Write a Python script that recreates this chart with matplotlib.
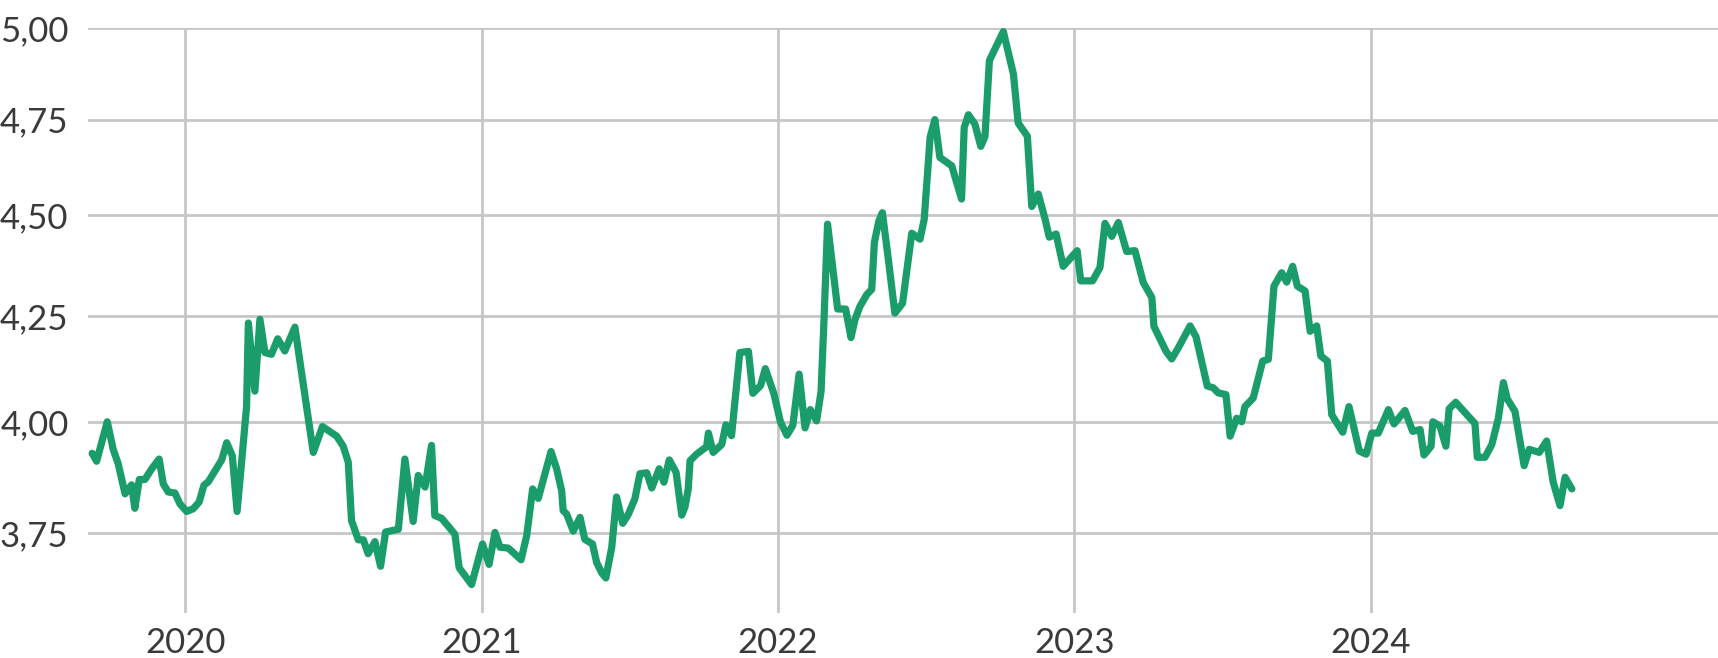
import matplotlib
matplotlib.use("Agg")
import matplotlib.pyplot as plt

# weekly rate (x in decimal years)
years = [
    2019.686, 2019.701, 2019.737, 2019.757, 2019.774, 2019.797, 2019.819, 2019.830,
    2019.845, 2019.864, 2019.887, 2019.912, 2019.926, 2019.943, 2019.965, 2019.982,
    2020.005, 2020.027, 2020.047, 2020.063, 2020.078, 2020.123, 2020.140, 2020.159,
    2020.175, 2020.207, 2020.213, 2020.235, 2020.252, 2020.269, 2020.291, 2020.312,
    2020.336, 2020.370, 2020.432, 2020.463, 2020.511, 2020.533, 2020.550, 2020.561,
    2020.584, 2020.601, 2020.617, 2020.640, 2020.659, 2020.676, 2020.719, 2020.741,
    2020.769, 2020.786, 2020.809, 2020.831, 2020.842, 2020.865, 2020.910, 2020.924,
    2020.966, 2021.003, 2021.025, 2021.045, 2021.062, 2021.090, 2021.133, 2021.152,
    2021.172, 2021.191, 2021.234, 2021.253, 2021.270, 2021.275, 2021.287, 2021.309,
    2021.332, 2021.348, 2021.374, 2021.388, 2021.405, 2021.419, 2021.439, 2021.455,
    2021.476, 2021.495, 2021.517, 2021.534, 2021.557, 2021.574, 2021.599, 2021.615,
    2021.633, 2021.656, 2021.675, 2021.686, 2021.697, 2021.703, 2021.725, 2021.759,
    2021.765, 2021.781, 2021.810, 2021.824, 2021.843, 2021.871, 2021.900, 2021.915,
    2021.941, 2021.957, 2021.986, 2022.008, 2022.030, 2022.050, 2022.071, 2022.091,
    2022.109, 2022.130, 2022.145, 2022.155, 2022.167, 2022.201, 2022.228, 2022.246,
    2022.259, 2022.276, 2022.299, 2022.316, 2022.325, 2022.340, 2022.352, 2022.372,
    2022.394, 2022.420, 2022.451, 2022.479, 2022.493, 2022.513, 2022.529, 2022.546,
    2022.586, 2022.619, 2022.628, 2022.642, 2022.664, 2022.684, 2022.698, 2022.713,
    2022.760, 2022.794, 2022.810, 2022.841, 2022.856, 2022.878, 2022.901, 2022.915,
    2022.938, 2022.962, 2023.009, 2023.021, 2023.061, 2023.086, 2023.103, 2023.126,
    2023.148, 2023.176, 2023.204, 2023.232, 2023.261, 2023.268, 2023.309, 2023.328,
    2023.350, 2023.390, 2023.410, 2023.448, 2023.468, 2023.485, 2023.511, 2023.525,
    2023.547, 2023.564, 2023.575, 2023.603, 2023.635, 2023.654, 2023.673, 2023.699,
    2023.716, 2023.736, 2023.752, 2023.778, 2023.795, 2023.817, 2023.831, 2023.853,
    2023.868, 2023.905, 2023.926, 2023.961, 2023.984, 2024.003, 2024.025, 2024.059,
    2024.078, 2024.115, 2024.141, 2024.166, 2024.179, 2024.203, 2024.209, 2024.233,
    2024.253, 2024.264, 2024.286, 2024.351, 2024.359, 2024.385, 2024.408, 2024.430,
    2024.447, 2024.460, 2024.486, 2024.517, 2024.534, 2024.568, 2024.593, 2024.615,
    2024.638, 2024.655, 2024.678,
]
rate = [
    3.928, 3.910, 4.000, 3.937, 3.904, 3.837, 3.857, 3.805,
    3.869, 3.869, 3.893, 3.915, 3.859, 3.841, 3.839, 3.815,
    3.798, 3.804, 3.819, 3.856, 3.864, 3.913, 3.952, 3.922,
    3.798, 4.035, 4.233, 4.071, 4.242, 4.162, 4.158, 4.195,
    4.166, 4.223, 3.930, 3.989, 3.967, 3.944, 3.908, 3.778,
    3.736, 3.736, 3.706, 3.732, 3.679, 3.753, 3.759, 3.915,
    3.776, 3.878, 3.852, 3.946, 3.789, 3.783, 3.748, 3.676,
    3.640, 3.727, 3.683, 3.752, 3.720, 3.718, 3.693, 3.745,
    3.848, 3.827, 3.932, 3.893, 3.844, 3.800, 3.792, 3.755,
    3.785, 3.737, 3.727, 3.687, 3.665, 3.654, 3.720, 3.830,
    3.772, 3.792, 3.826, 3.882, 3.884, 3.850, 3.893, 3.863,
    3.913, 3.885, 3.790, 3.808, 3.848, 3.911, 3.926, 3.943,
    3.974, 3.930, 3.948, 3.993, 3.968, 4.162, 4.165, 4.066,
    4.084, 4.124, 4.065, 4.000, 3.969, 3.992, 4.111, 3.986,
    4.028, 4.002, 4.070, 4.240, 4.478, 4.267, 4.267, 4.198,
    4.240, 4.273, 4.302, 4.315, 4.432, 4.486, 4.507, 4.390,
    4.257, 4.281, 4.455, 4.440, 4.490, 4.703, 4.750, 4.650,
    4.628, 4.542, 4.729, 4.763, 4.738, 4.679, 4.705, 4.910,
    4.990, 4.873, 4.741, 4.706, 4.523, 4.555, 4.490, 4.445,
    4.453, 4.372, 4.411, 4.336, 4.336, 4.369, 4.480, 4.447,
    4.482, 4.409, 4.411, 4.332, 4.295, 4.225, 4.165, 4.147,
    4.173, 4.226, 4.200, 4.083, 4.079, 4.067, 4.063, 3.967,
    4.008, 4.000, 4.035, 4.055, 4.142, 4.146, 4.323, 4.356,
    4.333, 4.372, 4.323, 4.311, 4.213, 4.226, 4.154, 4.142,
    4.016, 3.976, 4.035, 3.933, 3.926, 3.974, 3.974, 4.028,
    3.995, 4.026, 3.978, 3.982, 3.924, 3.944, 4.000, 3.990,
    3.944, 4.030, 4.045, 3.996, 3.919, 3.919, 3.948, 4.008,
    4.091, 4.053, 4.024, 3.900, 3.937, 3.930, 3.956, 3.863,
    3.811, 3.874, 3.848,
]

y_ticks = [3.75, 4.00, 4.25, 4.50, 4.75, 5.00]
x_ticks = [2020, 2021, 2022, 2023, 2024]
x_labels = ["2020", "2021", "2022", "2023", "2024"]

plt.rcParams['font.family'] = ['Lato', 'DejaVu Sans']
text_col = '#3a3a3a'
grid_col = '#c6c6c6'

fig = plt.figure(figsize=(17.18, 6.58), dpi=100)
ax = fig.add_axes([88 / 1718, 1 - 613 / 658, 1 - 88 / 1718, (613 - 28) / 658])

# slightly compressed vertical scale, close to logarithmic
p = 0.14
ax.set_yscale('function', functions=(lambda v: v ** p, lambda v: v ** (1 / p)))

ax.plot(years, rate, color='#1a9d6a', lw=5.2, solid_joinstyle='round',
        solid_capstyle='round', zorder=3)

ax.set_xlim(2019.672, 2025.171)
ax.set_ylim(3.58, 5.0)
ax.set_yticks(y_ticks)
ax.set_yticklabels([f"{v:.2f}".replace('.', ',') for v in y_ticks])
ax.set_xticks(x_ticks)
ax.set_xticklabels(x_labels)
ax.minorticks_off()

ax.grid(True, color=grid_col, lw=2.0)
ax.set_axisbelow(True)
for s in ax.spines.values():
    s.set_visible(False)
ax.tick_params(axis='both', length=0, labelsize=25, colors=text_col)
ax.tick_params(axis='y', pad=14)
ax.tick_params(axis='x', pad=10)

fig.savefig('out.png', dpi=100, facecolor='white')
